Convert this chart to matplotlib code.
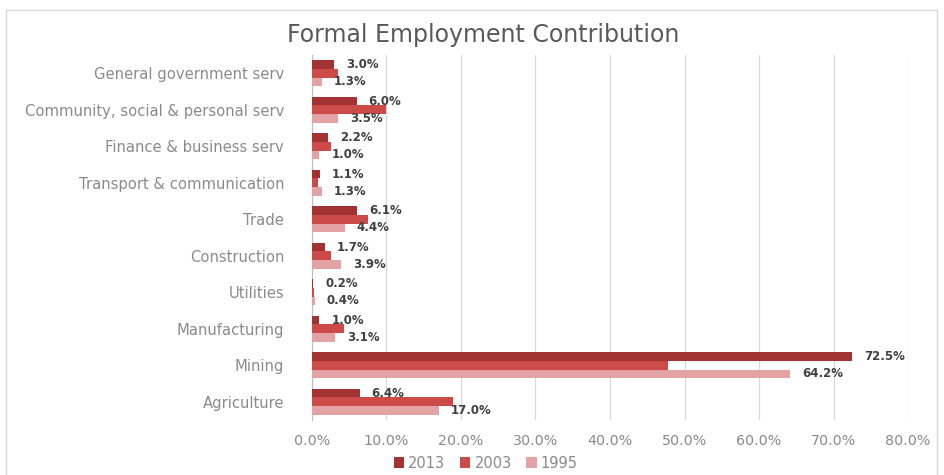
import matplotlib
matplotlib.use("Agg")
import matplotlib.pyplot as plt
from matplotlib.patches import Rectangle
from matplotlib.ticker import FuncFormatter
import numpy as np

# Sector shares of formal employment (%), bottom to top as drawn
sectors = [
    "Agriculture",
    "Mining",
    "Manufacturing",
    "Utilities",
    "Construction",
    "Trade",
    "Transport & communication",
    "Finance & business serv",
    "Community, social & personal serv",
    "General government serv",
]
share_2013 = [6.4, 72.5, 1.0, 0.2, 1.7, 6.1, 1.1, 2.2, 6.0, 3.0]
share_2003 = [18.9, 47.8, 4.3, 0.3, 2.6, 7.6, 0.8, 2.6, 10.0, 3.5]
share_1995 = [17.0, 64.2, 3.1, 0.4, 3.9, 4.4, 1.3, 1.0, 3.5, 1.3]

years = ["2013", "2003", "1995"]
colors = ["#A33232", "#CC4A48", "#E3A3A4"]

plt.rcParams["font.family"] = ["DejaVu Sans"]

fig = plt.figure(figsize=(9.45, 4.75), dpi=100)
ax = fig.add_axes([0.330, 0.116, 0.631, 0.768])

y = np.arange(len(sectors))
h = 0.237
series = [share_2013, share_2003, share_1995]
bars = []
for i, (vals, yr, c) in enumerate(zip(series, years, colors)):
    b = ax.barh(y + h * (1 - i), vals, height=h, color=c, label=yr, zorder=3)
    bars.append(b)

# value labels only for 2013 and 1995
for vals, off in [(share_2013, h), (share_1995, -h)]:
    for yi, v in zip(y, vals):
        ax.annotate(f"{v:.1f}%", xy=(v, yi + off), xytext=(12, 0),
                    textcoords="offset pixels", ha="left", va="center",
                    fontsize=8.5, fontweight="bold", color="#404040")

ax.set_xlim(0, 80)
ax.set_ylim(-0.5, len(sectors) - 0.5)
ax.set_xticks(np.arange(0, 81, 10))
ax.xaxis.set_major_formatter(FuncFormatter(lambda v, p: f"{v:.1f}%"))
ax.set_yticks(y)
ax.set_yticklabels(sectors, fontsize=10.6)
ax.tick_params(axis="both", length=0, colors="#8A8A8A")
ax.tick_params(axis="x", labelsize=10.3, pad=10)
ax.tick_params(axis="y", pad=20)
ax.grid(axis="x", color="#D9D9D9", linewidth=0.9, zorder=0)
for side in ["top", "right", "bottom"]:
    ax.spines[side].set_visible(False)
ax.spines["left"].set_color("#BFBFBF")

fig.text(0.511, 0.926, "Formal Employment Contribution", ha="center",
         va="center", fontsize=17, color="#595959")

fig.legend(handles=bars, labels=years, loc="center", ncol=3,
           bbox_to_anchor=(0.514, 0.025), frameon=False, fontsize=10.5,
           handlelength=0.7, handleheight=0.7, handletextpad=0.3,
           columnspacing=1.0, labelcolor="#8A8A8A")

# outer chart frame
fig.patches.append(Rectangle((0.006, -0.01), 0.986, 0.99,
                             transform=fig.transFigure, fill=False,
                             edgecolor="#D9D9D9", linewidth=1.0))

fig.savefig("out.png", dpi=100)
